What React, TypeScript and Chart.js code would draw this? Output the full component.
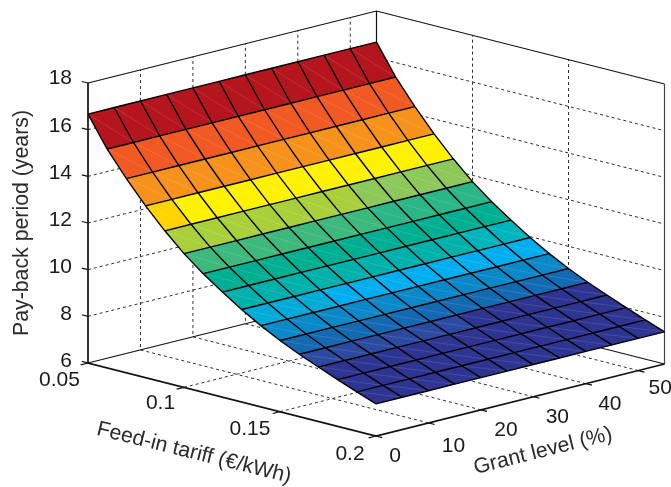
import React, { useEffect, useRef } from "react";
import { Chart, registerables } from "chart.js";

Chart.register(...registerables);

// ---- data ----
const tariffValues = [0.05, 0.06, 0.07, 0.08, 0.09, 0.1, 0.11, 0.12, 0.13, 0.14, 0.15, 0.16, 0.17, 0.18, 0.19, 0.2];
const grantValues = [0, 5, 10, 15, 20, 25, 30, 35, 40, 45, 50, 55];
const paybackByTariff = [16.67, 15.38, 14.32, 13.36, 12.5, 11.73, 11.08, 10.5, 9.96, 9.48, 9.05, 8.67, 8.33, 8.0, 7.68, 7.38];

const tariffTicks = [0.05, 0.1, 0.15, 0.2];
const tariffTickLabels = ["0.05", "0.1", "0.15", "0.2"];
const grantTicks = [0, 10, 20, 30, 40, 50];
const grantTickLabels = ["0", "10", "20", "30", "40", "50"];
const paybackTicks = [6, 8, 10, 12, 14, 16, 18];
const paybackTickLabels = ["6", "8", "10", "12", "14", "16", "18"];

const palette: Record<string, string> = {
  R: "#B5161D", O: "#F15A22", o: "#F7931D", g: "#FFD400", y: "#FFF200",
  l: "#A9D03A", L: "#8DC85A", M: "#3DB97E", G: "#2AB687", T: "#00AF92",
  t: "#00B0AA", c: "#00B4BC", k: "#00ABD8", C: "#00AEEF", b: "#0A88C8",
  B: "#1469B3", n: "#2A4B9F", N: "#2E3492",
};
// colour of every cell: one row per tariff step, one letter per grant step
const cellColours = [
  "RRRRRRRRRRR", "OOOOOOOOOOO", "ooooooooooo", "gyyyyyyyyyy", "lllllllLLLL",
  "MMMMMMMGGGG", "TTTTTTTTTTT", "tttttttttcc", "kkkCCCCCCCC", "bbbbbbbbbbb",
  "BBBBBBBBBBB", "nnnnnnNNNNN", "NNNNNNNNNNN", "NNNNNNNNNNN", "NNNNNNNNNNN",
];

// ---- 3-D axes limits and view ----
const tariffMin = 0.05, tariffMax = 0.2;
const grantMax = 55;
const paybackMin = 6, paybackMax = 18;

function project(t: number, g: number, z: number) {
  const u = (t - tariffMin) / (tariffMax - tariffMin);
  const v = g / grantMax;
  const w = z - paybackMin;
  return { x: 88 + 288 * u + 288.5 * v, y: 363 + 73 * u - 72 * v - 23.33 * w };
}

type P = { x: number; y: number };
function lineSet(data: P[], color: string, width: number, dash: number[] = []) {
  return {
    data,
    showLine: true,
    borderColor: color,
    borderWidth: width,
    borderDash: dash,
    pointRadius: 0,
    fill: false,
    tension: 0,
    spanGaps: false,
    clip: false as const,
  };
}

function buildDatasets() {
  const sets: any[] = [];
  const gridC = "#2e2e2e";
  const dash = [3, 3];
  const zLo = paybackMin, zHi = paybackMax;

  // wall grid lines
  for (const z of paybackTicks.slice(1, -1)) {
    sets.push(lineSet([project(tariffMin, 0, z), project(tariffMin, grantMax, z), project(tariffMax, grantMax, z)], gridC, 1, dash));
  }
  for (const g of grantTicks.slice(1)) {
    sets.push(lineSet([project(tariffMax, g, zLo), project(tariffMin, g, zLo), project(tariffMin, g, zHi)], gridC, 1, dash));
  }
  for (const t of tariffTicks.slice(1, -1)) {
    sets.push(lineSet([project(t, 0, zLo), project(t, grantMax, zLo), project(t, grantMax, zHi)], gridC, 1, dash));
  }

  // box
  const boxC = "#111111";
  sets.push(lineSet([project(tariffMin, 0, zLo), project(tariffMin, grantMax, zLo), project(tariffMax, grantMax, zLo)], boxC, 1.2));
  sets.push(lineSet([project(tariffMin, grantMax, zLo), project(tariffMin, grantMax, zHi)], boxC, 1.2));
  sets.push(lineSet([project(tariffMin, 0, zHi), project(tariffMin, grantMax, zHi), project(tariffMax, grantMax, zHi)], boxC, 1.2));
  sets.push(lineSet([project(tariffMax, grantMax, zHi), project(tariffMax, grantMax, zLo)], "#444444", 1.2));

  // surface: diagonals first per cell, so the black edges stay on top of them
  for (let i = 0; i < tariffValues.length - 1; i++) {
    for (let j = 0; j < grantValues.length - 1; j++) {
      const a = project(tariffValues[i], grantValues[j], paybackByTariff[i]);
      const b = project(tariffValues[i], grantValues[j + 1], paybackByTariff[i]);
      const c = project(tariffValues[i + 1], grantValues[j + 1], paybackByTariff[i + 1]);
      const d = project(tariffValues[i + 1], grantValues[j], paybackByTariff[i + 1]);
      const col = palette[cellColours[i][j]];
      sets.push({
        ...lineSet([a, b, c, d, a], "rgba(0,0,0,0)", 0),
        backgroundColor: col,
        fill: "shape",
      });
      sets.push(lineSet([a, c], "rgba(255,255,255,0.2)", 0.6));
    }
  }
  for (let i = 0; i < tariffValues.length; i++) {
    sets.push(lineSet(grantValues.map((g) => project(tariffValues[i], g, paybackByTariff[i])), "#000000", 1.4));
  }
  for (const g of grantValues) {
    sets.push(lineSet(tariffValues.map((t, i) => project(t, g, paybackByTariff[i])), "#000000", 1.4));
  }

  // front axes
  sets.push(lineSet([project(tariffMin, 0, zHi), project(tariffMin, 0, zLo), project(tariffMax, 0, zLo), project(tariffMax, grantMax, zLo)], boxC, 1.7));

  // ticks
  const tickT = 0.0032, tickG = 1.4;
  for (const z of paybackTicks) {
    sets.push(lineSet([project(tariffMin, 0, z), project(tariffMin - tickT, 0, z)], boxC, 1.2));
  }
  for (const t of tariffTicks) {
    sets.push(lineSet([project(t, 0, zLo), project(t, -tickG, zLo)], boxC, 1.2));
  }
  for (const g of grantTicks) {
    sets.push(lineSet([project(tariffMax, g, zLo), project(tariffMax + tickT, g, zLo)], boxC, 1.2));
  }
  return sets.reverse();
}

const labelsPlugin = {
  id: "axisText",
  afterDatasetsDraw(chart: any) {
    const { ctx, scales } = chart;
    const X = (v: number) => scales.x.getPixelForValue(v);
    const Y = (v: number) => scales.y.getPixelForValue(v);
    ctx.save();
    ctx.fillStyle = "#1a1a1a";
    ctx.font = '21px "Liberation Sans"';
    ctx.textBaseline = "middle";

    ctx.textAlign = "right";
    paybackTicks.forEach((z, i) => {
      const p = project(tariffMin, 0, z);
      ctx.fillText(paybackTickLabels[i], X(p.x) - 16, Y(p.y) - 4.4 + (paybackMax - z) * 0.22);
    });

    ctx.textAlign = "center";
    const tOff = [[-28.5, 17], [-23.5, 15.7], [-30, 18], [-26, 18]];
    tariffTicks.forEach((t, i) => {
      const p = project(t, 0, paybackMin);
      ctx.fillText(tariffTickLabels[i], X(p.x) + tOff[i][0], Y(p.y) + tOff[i][1]);
    });
    const gOff = [[19, 20.7], [25, 22.8], [25, 20], [24, 20.3], [24, 20.4], [22, 17.5]];
    grantTicks.forEach((g, i) => {
      const p = project(tariffMax, g, paybackMin);
      ctx.fillText(grantTickLabels[i], X(p.x) + gOff[i][0], Y(p.y) + gOff[i][1]);
    });

    ctx.fillStyle = "#2b2b2b";
    ctx.font = '21.3px "Liberation Sans"';
    const title = (text: string, x: number, y: number, angle: number) => {
      ctx.save();
      ctx.translate(X(x), Y(y));
      ctx.rotate(angle);
      ctx.fillText(text, 0, 0);
      ctx.restore();
    };
    title("Pay-back period (years)", 22, 223, -Math.PI / 2);
    title("Feed-in tariff (\u20AC/kWh)", 194, 453, (14 * Math.PI) / 180);
    title("Grant level (%)", 543, 451, (-14 * Math.PI) / 180);
    ctx.restore();
  },
};

export default function App() {
  const ref = useRef<HTMLCanvasElement>(null);
  useEffect(() => {
    document.body.style.margin = "0";
    const chart = new Chart(ref.current as HTMLCanvasElement, {
      type: "scatter",
      data: { datasets: buildDatasets() },
      options: {
        animation: false,
        responsive: false,
        events: [],
        layout: { padding: 0 },
        plugins: { legend: { display: false }, tooltip: { enabled: false } },
        scales: {
          x: { type: "linear", display: false, min: 0, max: 671 },
          y: { type: "linear", display: false, min: 0, max: 487, reverse: true },
        },
      },
      plugins: [labelsPlugin],
    } as any);
    return () => chart.destroy();
  }, []);
  return <canvas ref={ref} width={671} height={487} style={{ display: "block" }} />;
}
